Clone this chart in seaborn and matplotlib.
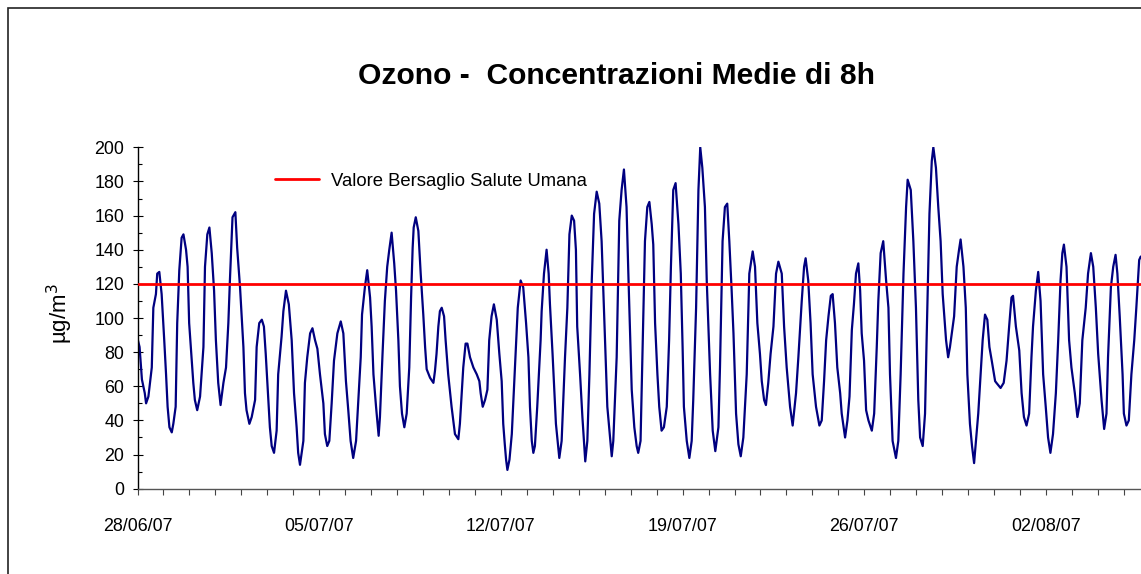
import pandas as pd
import matplotlib
matplotlib.use("Agg")
import matplotlib.pyplot as plt
import matplotlib.dates as mdates
from matplotlib.patches import Rectangle
from matplotlib.ticker import MultipleLocator
import seaborn as sns

# 8h running mean of ozone
# day_offset = days since 28/06/07 00:00
day_offset = [
    0.00, 0.08, 0.17, 0.28, 0.33, 0.42, 0.55, 0.61, 0.71, 0.76, 0.84, 0.93, 0.99,
    1.03, 1.10, 1.16, 1.23, 1.32, 1.38, 1.47, 1.53, 1.61, 1.70, 1.77, 1.87, 1.93, 1.99,
    2.09, 2.15, 2.21, 2.30, 2.41, 2.47, 2.54, 2.60, 2.69, 2.77, 2.86, 2.95,
    3.02, 3.11, 3.20, 3.31, 3.41, 3.50, 3.56, 3.66, 3.77, 3.84, 3.95,
    4.08, 4.14, 4.20, 4.31, 4.40, 4.53, 4.59, 4.69, 4.79, 4.87, 4.94,
    5.00, 5.10, 5.17, 5.26, 5.36, 5.42, 5.55, 5.62, 5.72, 5.83, 5.94,
    6.03, 6.13, 6.19, 6.26, 6.39, 6.45, 6.54, 6.65, 6.74, 6.84, 6.93,
    7.03, 7.16, 7.22, 7.31, 7.39, 7.48, 7.57, 7.70, 7.83, 7.93,
    8.03, 8.12, 8.21, 8.31, 8.42, 8.51, 8.60, 8.65, 8.76, 8.85, 8.96,
    9.02, 9.09, 9.19, 9.29, 9.34, 9.44, 9.53, 9.62, 9.70, 9.79, 9.89, 9.96,
    10.05, 10.11, 10.19, 10.28, 10.37, 10.47, 10.54, 10.60, 10.64, 10.72, 10.82, 10.91,
    11.01, 11.08, 11.14, 11.27, 11.40, 11.46, 11.52, 11.59, 11.65, 11.72, 11.81, 11.87, 11.97,
    12.10, 12.23, 12.36, 12.42, 12.55, 12.64, 12.71, 12.81, 12.94,
    13.07, 13.17, 13.22, 13.30, 13.39, 13.48, 13.55, 13.64, 13.73, 13.84, 13.94,
    14.03, 14.09, 14.15, 14.20, 14.25, 14.33, 14.42, 14.50, 14.58, 14.65, 14.76, 14.86, 14.97,
    15.06, 15.12, 15.19, 15.25, 15.31, 15.40, 15.53, 15.57, 15.66, 15.76, 15.84, 15.89, 15.99,
    16.12, 16.25, 16.34, 16.47, 16.56, 16.64, 16.73, 16.82, 16.89, 16.94,
    17.05, 17.14, 17.25, 17.33, 17.41, 17.50, 17.59, 17.69, 17.79, 17.88,
    18.01, 18.10, 18.27, 18.33, 18.46, 18.56, 18.65, 18.74, 18.84, 18.91,
    19.04, 19.14, 19.23, 19.29, 19.38, 19.46, 19.55, 19.64, 19.72, 19.81, 19.87, 19.94,
    20.03, 20.10, 20.19, 20.28, 20.39, 20.48, 20.55, 20.64, 20.73, 20.84, 20.93,
    21.00, 21.05, 21.16, 21.26, 21.35, 21.41, 21.52, 21.61, 21.68, 21.76, 21.86, 21.93,
    22.06, 22.16, 22.26, 22.38, 22.44, 22.54, 22.63, 22.72, 22.80, 22.89, 22.96,
    23.06, 23.15, 23.24, 23.34, 23.47, 23.57, 23.70, 23.79, 23.88, 23.98,
    24.05, 24.14, 24.21, 24.30, 24.39, 24.50, 24.60, 24.69, 24.82, 24.91,
    25.01, 25.14, 25.24, 25.37, 25.46, 25.59, 25.68, 25.74, 25.84, 25.93,
    26.01, 26.14, 26.27, 26.36, 26.45, 26.53, 26.62, 26.71, 26.78, 26.87, 26.96,
    27.07, 27.13, 27.26, 27.35, 27.43, 27.52, 27.60, 27.68, 27.77, 27.84, 27.90, 27.99,
    28.07, 28.16, 28.29, 28.38, 28.48, 28.54, 28.63, 28.73, 28.84, 28.93, 28.99,
    29.09, 29.22, 29.31, 29.40, 29.51, 29.61, 29.67, 29.79, 29.89, 29.99,
    30.08, 30.15, 30.25, 30.34, 30.40, 30.51, 30.60, 30.66, 30.76, 30.85, 30.94,
    31.02, 31.11, 31.15, 31.23, 31.30, 31.39, 31.46, 31.56, 31.65, 31.71, 31.82, 31.91, 31.97,
    32.07, 32.15, 32.23, 32.30, 32.39, 32.48, 32.56, 32.65, 32.74, 32.82, 32.91,
    33.04, 33.09, 33.25, 33.37, 33.48, 33.58, 33.67, 33.73, 33.84, 33.97,
    34.06, 34.15, 34.25, 34.35, 34.44, 34.50, 34.61, 34.70, 34.79, 34.89, 34.99,
    35.08, 35.17, 35.27, 35.38, 35.47, 35.56, 35.63, 35.69, 35.79, 35.89, 35.98,
    36.11, 36.21, 36.30, 36.40, 36.53, 36.62, 36.73, 36.82, 36.92,
    37.01, 37.14, 37.24, 37.33, 37.39, 37.50, 37.59, 37.68, 37.75, 37.84, 37.95,
    38.00, 38.10, 38.19, 38.29, 38.40, 38.48, 38.59, 38.65,
]
ozone = [
    88, 83, 64, 56, 50, 54, 71, 106, 114, 126, 127, 114, 98,
    87, 67, 48, 36, 33, 38, 48, 97, 128, 147, 149, 140, 130, 97,
    75, 62, 52, 46, 54, 67, 83, 130, 149, 153, 138, 116,
    87, 62, 49, 62, 71, 97, 122, 159, 162, 141, 118,
    83, 56, 46, 38, 42, 52, 83, 97, 99, 95, 79,
    63, 36, 25, 21, 34, 67, 89, 104, 116, 108, 87,
    56, 36, 21, 14, 28, 62, 77, 91, 94, 87, 82,
    67, 50, 32, 25, 28, 50, 75, 91, 98, 91,
    63, 46, 28, 18, 28, 52, 77, 102, 118, 128, 112,
    95, 67, 48, 31, 42, 79, 110, 130, 140, 150, 132, 116,
    87, 60, 44, 36, 44, 71, 112, 141, 153, 159, 151, 126,
    102, 83, 70, 65, 62, 69, 79, 95, 104, 106, 101, 87, 67,
    48, 32, 29, 38, 71, 85, 85, 77, 71,
    67, 63, 56, 48, 52, 58, 87, 101, 108, 99, 79,
    63, 38, 26, 17, 11, 17, 32, 58, 83, 106, 122, 118, 97,
    77, 48, 28, 21, 25, 48, 87, 104, 126, 140, 126, 108, 79,
    38, 18, 28, 77, 106, 149, 160, 157, 140, 95,
    67, 42, 16, 28, 67, 122, 161, 174, 167, 145,
    87, 48, 19, 28, 77, 157, 175, 187, 165, 126,
    58, 36, 25, 21, 28, 83, 145, 165, 168, 155, 143, 97,
    67, 48, 34, 36, 48, 87, 130, 175, 179, 155, 126,
    83, 48, 28, 18, 28, 52, 106, 175, 200, 188, 165, 122,
    67, 34, 22, 36, 71, 145, 165, 167, 145, 116, 91,
    44, 26, 19, 30, 67, 126, 139, 130, 97, 79,
    63, 52, 49, 62, 79, 95, 126, 133, 126, 95,
    71, 48, 37, 56, 77, 110, 130, 135, 122, 97,
    67, 48, 37, 40, 63, 87, 101, 113, 114, 97, 71,
    56, 44, 30, 40, 54, 93, 108, 126, 132, 116, 91, 75,
    46, 40, 34, 44, 83, 110, 138, 145, 122, 106, 67,
    28, 18, 28, 67, 126, 165, 181, 175, 145, 106,
    52, 30, 25, 44, 87, 161, 192, 200, 188, 165, 145,
    114, 95, 87, 77, 83, 93, 101, 130, 140, 146, 130, 106, 67,
    38, 25, 15, 28, 44, 67, 87, 102, 99, 83, 75,
    63, 62, 59, 62, 75, 95, 112, 113, 95, 81,
    56, 42, 37, 44, 77, 95, 116, 127, 110, 67, 48,
    30, 21, 32, 56, 87, 122, 138, 143, 130, 87, 71,
    56, 42, 50, 87, 106, 126, 138, 130, 106,
    79, 52, 35, 44, 77, 118, 130, 137, 126, 101, 67,
    44, 37, 40, 67, 87, 106, 134, 136,
]
week_labels = ["28/06/07", "05/07/07", "12/07/07", "19/07/07", "26/07/07", "02/08/07"]
TARGET = 120
target_label = "Valore Bersaglio Salute Umana"
title = "Ozono -  Concentrazioni Medie di 8h"

start = pd.Timestamp("2007-06-28")
df = pd.DataFrame({
    "time": start + pd.to_timedelta(day_offset, unit="D"),
    "ozone": ozone,
})

sns.set_style("white")
plt.rcParams["font.family"] = ["Liberation Sans", "DejaVu Sans"]
plt.rcParams["text.color"] = "black"
plt.rcParams["axes.labelcolor"] = "black"
plt.rcParams["xtick.color"] = "black"
plt.rcParams["ytick.color"] = "black"

fig = plt.figure(figsize=(11.41, 5.74), dpi=100)
ax = fig.add_axes([137.5 / 1141, 85.3 / 574, 1 - 137.5 / 1141, 341.4 / 574])

sns.lineplot(data=df, x="time", y="ozone", ax=ax, color="#000080", lw=1.6,
             sort=False, estimator=None)
ax.axhline(TARGET, color="#ff0000", lw=2.0, label=target_label, zorder=3)

ax.set_xlim(start, start + pd.Timedelta(days=38.66))
ax.set_ylim(0, 200)

ticks = pd.to_datetime(week_labels, format="%d/%m/%y")
ax.set_xticks(ticks)
ax.set_xticklabels(week_labels)
ax.xaxis.set_minor_locator(mdates.DayLocator())
ax.yaxis.set_major_locator(MultipleLocator(20))
ax.yaxis.set_minor_locator(MultipleLocator(10))

ax.tick_params(axis="x", which="both", direction="out", length=4.5, width=0.8,
               color="#444444", labelcolor="black", labelsize=12.9, pad=16.5,
               bottom=True)
ax.tick_params(axis="y", which="major", direction="inout", length=7, width=0.8,
               color="black", labelcolor="black", labelsize=12.9, pad=6, left=True)
ax.tick_params(axis="y", which="minor", direction="in", length=3, width=0.8,
               color="black", left=True)

for side in ["top", "right"]:
    ax.spines[side].set_visible(False)
ax.spines["left"].set_color("black")
ax.spines["bottom"].set_color("#555555")
ax.spines["left"].set_linewidth(1)
ax.spines["bottom"].set_linewidth(1)

ax.set_xlabel("")
ax.set_ylabel("")
fig.text(60 / 1141, 1 - 314 / 574, "µg/m$^3$", rotation=90, ha="center",
         va="center", fontsize=16, color="black")

fig.text(616 / 1141, 1 - 76 / 574, title, ha="center", va="center",
         fontsize=21.6, fontweight="bold", color="black")

leg = ax.legend(loc="center left", bbox_to_anchor=(275 / 1141, 1 - 181 / 574),
                bbox_transform=fig.transFigure, frameon=False, fontsize=13.3,
                handlelength=2.4, handletextpad=0.65, borderpad=0, borderaxespad=0)
for t in leg.get_texts():
    t.set_color("black")

# outer chart-area border (clipped on right and bottom like the original)
fig.add_artist(Rectangle((8 / 1141, -0.1), 2, 1.1 - 8 / 574, transform=fig.transFigure,
                         fill=False, edgecolor="#222222", lw=1.2))

fig.savefig("out.png", dpi=100)
